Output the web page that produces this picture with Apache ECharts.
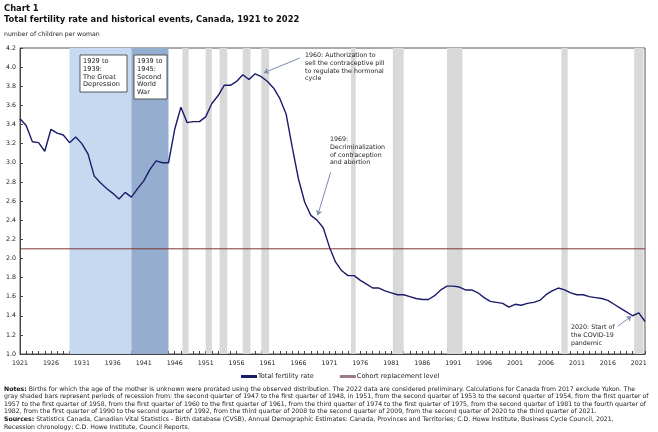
<!DOCTYPE html>
<html><head><meta charset="utf-8">
<script src="https://cdn.jsdelivr.net/npm/echarts@6/dist/echarts.min.js"></script>
<style>html,body{margin:0;padding:0;background:#fff;}#c{width:658px;height:432px;}</style>
</head><body><div id="c"></div>
<script>
const YEARS = [];
for (let y = 1921; y <= 2022; y++) YEARS.push(y);
const FERTILITY = [
3.46,3.39,3.22,3.21,3.12,3.35,3.31,3.29,3.21,3.27,
3.20,3.09,2.86,2.79,2.73,2.68,2.62,2.69,2.64,2.73,
2.81,2.93,3.02,3.00,3.00,3.35,3.58,3.42,3.43,3.43,
3.48,3.62,3.70,3.81,3.81,3.85,3.92,3.87,3.93,3.90,
3.85,3.78,3.67,3.51,3.16,2.83,2.59,2.45,2.40,2.32,
2.12,1.96,1.87,1.82,1.82,1.77,1.73,1.69,1.69,1.66,
1.64,1.62,1.62,1.60,1.58,1.57,1.57,1.61,1.67,1.71,
1.71,1.70,1.67,1.67,1.64,1.59,1.55,1.54,1.53,1.49,
1.52,1.51,1.53,1.54,1.56,1.62,1.66,1.69,1.67,1.64,
1.62,1.62,1.60,1.59,1.58,1.56,1.52,1.48,1.44,1.40,
1.43,1.34];
const REPLACEMENT = 2.1;
const X_LABELS = [1921,1926,1931,1936,1941,1946,1951,1956,1961,1966,1971,1976,1981,1986,1991,1996,2001,2006,2011,2016,2021];
const RECESSION_START = [1947.25,1951,1953.25,1957,1960,1974.5,1981.25,1990,2008.5,2020.25];
const RECESSION_END   = [1948.25,1952,1954.5,1958.25,1961.25,1975.25,1983,1992.5,2009.5,2021.75];
const DEPRESSION = [1929,1939];
const WAR = [1939,1945];

const chart = echarts.init(document.getElementById('c'), null, {renderer:'canvas'});
const FONT = 'DejaVu Sans';
const txt = (x, y, lines, size, extra) => lines.map((t, i) => Object.assign({
  type:'text', left:x, top:y + i*7.7, z:20,
  style:{text:t, font: size+'px "'+FONT+'"', fill:'#222'}
}, extra||{}));

const recessionAreas = RECESSION_START.map((s,i)=>[{xAxis:s, itemStyle:{color:'#d9d9d9'}},{xAxis:RECESSION_END[i]}]);
recessionAreas.push([{xAxis:DEPRESSION[0], itemStyle:{color:'#c6d9f0'}},{xAxis:DEPRESSION[1]}]);
recessionAreas.push([{xAxis:WAR[0], itemStyle:{color:'#95aed0'}},{xAxis:WAR[1]}]);

const notes = [
  ['Notes:', ' Births for which the age of the mother is unknown were prorated using the observed distribution. The 2022 data are considered preliminary. Calculations for Canada from 2017 exclude Yukon. The'],
  ['', 'gray shaded bars represent periods of recession from: the second quarter of 1947 to the first quarter of 1948, in 1951, from the second quarter of 1953 to the second quarter of 1954, from the first quarter of'],
  ['', '1957 to the first quarter of 1958, from the first quarter of 1960 to the first quarter of 1961, from the third quarter of 1974 to the first quarter of 1975, from the second quarter of 1981 to the fourth quarter of'],
  ['', '1982, from the first quarter of 1990 to the second quarter of 1992, from the third quarter of 2008 to the second quarter of 2009, from the second quarter of 2020 to the third quarter of 2021.'],
  ['Sources:', ' Statistics Canada, Canadian Vital Statistics - Birth database (CVSB), Annual Demographic Estimates: Canada, Provinces and Territories; C.D. Howe Institute, Business Cycle Council, 2021,'],
  ['', 'Recession chronology; C.D. Howe Institute, Council Reports.']
];
const noteEls = notes.map((n,i)=>({
  type:'text', left:4, top:386 + i*7.6, z:20,
  style:{text: (n[0]?'{b|'+n[0]+'}':'') + '{n|'+n[1]+'}',
    rich:{b:{font:'bold 6.2px "'+FONT+'"', fill:'#111'}, n:{font:'6.2px "'+FONT+'"', fill:'#222'}}}
}));

const arrowStyle = {color:'#7a8db0', width:1, type:'solid'};

chart.setOption({
  animation:false,
  backgroundColor:'#fff',
  grid:{left:20, right:13, top:48, bottom:78, show:true, borderColor:'#555', borderWidth:1, backgroundColor:'transparent'},
  legend:{
    left:241, top:373, padding:0, itemWidth:16, itemHeight:3, itemGap:26, icon:'rect',
    textStyle:{fontFamily:FONT, fontSize:6.5, color:'#222', padding:[0,0,0,-4]},
    data:['Total fertility rate','Cohort replacement level']
  },
  xAxis:{
    type:'value', min:1921, max:2022,
    axisLine:{lineStyle:{color:'#444'}},
    axisTick:{inside:true, length:3, lineStyle:{color:'#444'}, customValues:YEARS},
    axisLabel:{customValues:X_LABELS, fontFamily:FONT, fontSize:6.3, color:'#222', margin:6, formatter:v=>String(v)},
    splitLine:{show:false}
  },
  yAxis:{
    type:'value', min:1.0, max:4.2, interval:0.2,
    axisLine:{show:true, lineStyle:{color:'#444'}},
    axisTick:{show:true, inside:true, length:3, lineStyle:{color:'#444'}},
    axisLabel:{fontFamily:FONT, fontSize:6.3, color:'#222', margin:4, formatter:v=>v.toFixed(1)},
    splitLine:{show:false}
  },
  series:[
    {type:'line', name:'shading', data:[], z:1, silent:true,
     markArea:{silent:true, data:recessionAreas}},
    {type:'line', name:'Cohort replacement level', symbol:'none', z:3,
     data:[[YEARS[0],REPLACEMENT],[YEARS[YEARS.length-1],REPLACEMENT]],
     lineStyle:{color:'#7d3535', width:1}, itemStyle:{color:'#a07c80'}},
    {type:'line', name:'Total fertility rate', symbol:'none', z:4,
     data:YEARS.map((y,i)=>[y,FERTILITY[i]]),
     lineStyle:{color:'#1b1b6b', width:1.4}, itemStyle:{color:'#1b1b6b'},
     markLine:{silent:true, symbol:['none','arrow'], symbolSize:5, label:{show:false},
       lineStyle:arrowStyle, animation:false,
       data:[
         [{coord:[1966.2,4.095]},{coord:[1960.4,3.94]}],
         [{coord:[1971.2,2.90]},{coord:[1969.1,2.45]}],
         [{coord:[2017.6,1.29]},{coord:[2019.8,1.395]}]
       ]}}
  ],
  graphic:[
    {type:'text', left:4, top:5, style:{text:'Chart 1', font:'bold 8.4px "'+FONT+'"', fill:'#111'}},
    {type:'text', left:4, top:16, style:{text:'Total fertility rate and historical events, Canada, 1921 to 2022', font:'bold 8.4px "'+FONT+'"', fill:'#111'}},
    {type:'text', left:4, top:31, style:{text:'number of children per woman', font:'6.2px "'+FONT+'"', fill:'#222'}},
    {type:'rect', shape:{x:80, y:55, width:47, height:37}, z:15, style:{fill:'#fff', stroke:'#333', lineWidth:0.8}},
    {type:'rect', shape:{x:134, y:55, width:33, height:44}, z:15, style:{fill:'#fff', stroke:'#333', lineWidth:0.8}},
    ...txt(83, 58, ['1929 to','1939:','The Great','Depression'], 6.6),
    ...txt(137, 58, ['1939 to','1945:','Second','World','War'], 6.6),
    ...txt(305, 52.5, ['1960: Authorization to','sell the contraceptive pill','to regulate the hormonal','cycle'], 6.3),
    ...txt(330, 136.5, ['1969:','Decriminalization','of contraception','and abortion'], 6.3),
    ...txt(571, 324.5, ['2020: Start of','the COVID-19','pandemic'], 6.3),
    ...noteEls
  ]
});
</script></body></html>
